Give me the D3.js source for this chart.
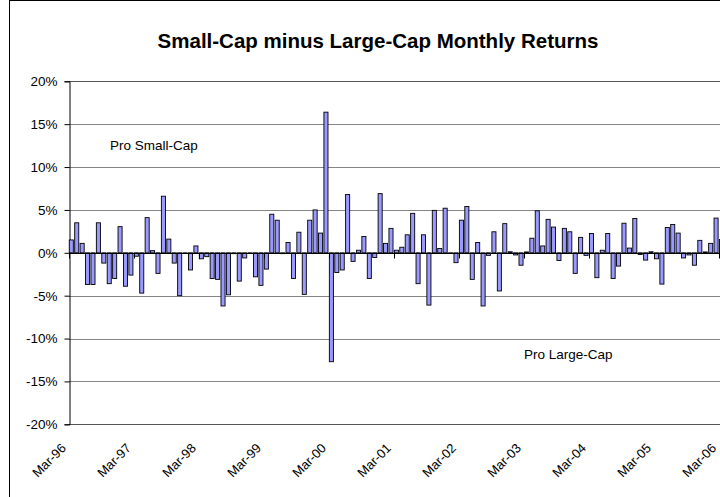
<!DOCTYPE html>
<html>
<head>
<meta charset="utf-8">
<script src="https://cdn.jsdelivr.net/npm/d3@7"></script>
<style>
  body { margin: 0; background: #fff; }
  svg { display: block; font-family: "Liberation Sans", Arial, sans-serif; }
</style>
</head>
<body>
<svg id="chart" width="720" height="497"></svg>
<script>
// monthly spread, small-cap minus large-cap, in percent (Mar-96 .. Mar-06)
const months = d3.timeMonths(new Date(1996, 2, 1), new Date(2006, 3, 1));
const spread = [
  1.5, 3.5, 1.1, -3.7, -3.7, 3.5, -1.2, -3.6, -3.0, 3.05, -3.9, -2.6,
  -0.4, -4.7, 4.1, 0.25, -2.4, 6.6, 1.6, -1.2, -5.0, -0.05, -2.0, 0.8,
  -0.7, -0.45, -3.0, -3.1, -6.2, -4.9, -0.1, -3.3, -0.6, -0.05, -2.8, -3.8,
  -1.9, 4.5, 3.8, -0.1, 1.2, -3.0, 2.4, -4.85, 3.8, 5.0, 2.3, 16.4,
  -12.7, -2.3, -2.0, 6.8, -1.0, 0.3, 1.9, -3.0, -0.55, 6.9, 1.1, 2.85,
  0.3, 0.65, 2.1, 4.6, -3.6, 2.1, -6.1, 4.95, 0.5, 5.2, -0.05, -1.15,
  3.8, 5.4, -3.1, 1.2, -6.2, -0.3, 2.45, -4.45, 3.4, 0.12, -0.25, -1.45,
  0.1, 1.7, 4.9, 0.8, 3.9, 3.0, -0.9, 2.85, 2.45, -2.4, 1.8, -0.3,
  2.25, -2.9, 0.3, 2.25, -3.0, -1.55, 3.45, 0.55, 4.0, -0.2, -0.85, 0.12,
  -0.7, -3.65, 2.95, 3.3, 2.3, -0.6, -0.25, -1.45, 1.45, 0.1, 1.1, 4.05,
  1.55
];
const yTicks = [20, 15, 10, 5, 0, -5, -10, -15, -20];
const xTickLabels = ['Mar-96', 'Mar-97', 'Mar-98', 'Mar-99', 'Mar-00', 'Mar-01',
  'Mar-02', 'Mar-03', 'Mar-04', 'Mar-05', 'Mar-06'];

const data = months.map((m, i) => ({ date: m, value: spread[i] }));
const fmt = d3.timeFormat('%b-%y');

const svg = d3.select('#chart');

// outer chart frame
svg.append('rect')
  .attr('x', 9.5).attr('y', 0.5)
  .attr('width', 730).attr('height', 520)
  .attr('fill', '#fff').attr('stroke', '#000');

const plotLeft = 69, plotRight = 723.8, plotTop = 81.3, plotBottom = 424.3;

const x = d3.scaleBand()
  .domain(data.map(d => fmt(d.date)))
  .range([plotLeft, plotRight])
  .paddingInner(0.25)
  .paddingOuter(0.05);

const y = d3.scaleLinear().domain([-20, 20]).range([plotBottom, plotTop]);

// gridlines
svg.append('g')
  .selectAll('line')
  .data(yTicks)
  .join('line')
  .attr('x1', plotLeft).attr('x2', 720)
  .attr('y1', d => Math.round(y(d)) + 0.5)
  .attr('y2', d => Math.round(y(d)) + 0.5)
  .attr('stroke', d => (d === 20 || d === -20) ? '#555' : '#858585')
  .attr('stroke-width', 1);

// y axis
const yAxis = svg.append('g')
  .attr('transform', `translate(${plotLeft + 0.5},0)`)
  .call(d3.axisLeft(y).tickValues(yTicks).tickSize(5).tickPadding(7)
    .tickFormat(d => d + '%'));
yAxis.select('.domain').attr('stroke', '#000');
yAxis.selectAll('.tick line').attr('stroke', '#000');
yAxis.selectAll('text')
  .attr('font-size', 13.5)
  .attr('font-family', '"Liberation Sans", Arial, sans-serif')
  .attr('fill', '#000');

// bars
svg.append('g')
  .selectAll('rect')
  .data(data)
  .join('rect')
  .attr('x', d => x(fmt(d.date)))
  .attr('y', d => Math.min(y(d.value), y(0)))
  .attr('width', x.bandwidth())
  .attr('height', d => Math.abs(y(d.value) - y(0)))
  .attr('fill', '#9999ff')
  .attr('stroke', '#000')
  .attr('stroke-width', 0.9);

// zero (category) axis
const y0 = Math.round(y(0)) + 0.5;
svg.append('line')
  .attr('x1', plotLeft).attr('x2', 720)
  .attr('y1', y0).attr('y2', y0)
  .attr('stroke', '#000');

const gap = (x.step() - x.bandwidth()) / 2;
const yearStarts = data.filter(d => xTickLabels.includes(fmt(d.date)));

svg.append('g')
  .selectAll('line')
  .data(yearStarts)
  .join('line')
  .attr('x1', d => Math.round(x(fmt(d.date)) - gap) + 0.5)
  .attr('x2', d => Math.round(x(fmt(d.date)) - gap) + 0.5)
  .attr('y1', y0).attr('y2', y0 + 5)
  .attr('stroke', '#000');

// rotated month labels
svg.append('g')
  .selectAll('text')
  .data(yearStarts)
  .join('text')
  .attr('transform', d => `translate(${x(fmt(d.date)) + x.bandwidth() / 2 - 4.5},449) rotate(-45)`)
  .attr('text-anchor', 'end')
  .attr('font-size', 13)
  .text(d => fmt(d.date));

// title and notes
svg.append('text')
  .attr('x', 378).attr('y', 48)
  .attr('text-anchor', 'middle')
  .attr('font-size', 20.5)
  .attr('font-weight', 'bold')
  .text('Small-Cap minus Large-Cap Monthly Returns');

svg.append('text')
  .attr('x', 110).attr('y', 150)
  .attr('font-size', 13.5)
  .text('Pro Small-Cap');

svg.append('text')
  .attr('x', 524).attr('y', 359)
  .attr('font-size', 13.5)
  .text('Pro Large-Cap');
</script>
</body>
</html>
